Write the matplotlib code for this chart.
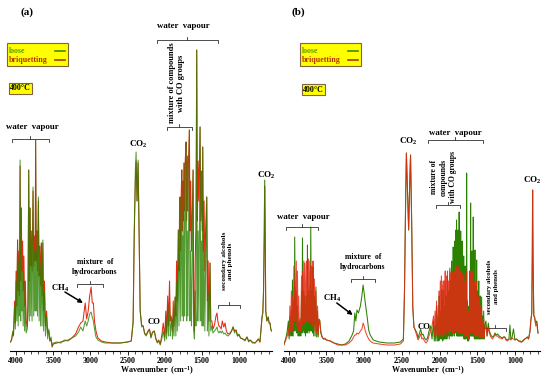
import matplotlib.pyplot as plt
from matplotlib.ticker import MultipleLocator
from matplotlib.lines import Line2D
from matplotlib.patches import Rectangle

plt.rcParams['font.family'] = 'Liberation Serif'
plt.rcParams['font.weight'] = 'bold'
plt.rcParams['mathtext.fontset'] = 'custom'
plt.rcParams['mathtext.rm'] = 'Liberation Serif:bold'
plt.rcParams['mathtext.bf'] = 'Liberation Serif:bold'
plt.rcParams['mathtext.it'] = 'Liberation Serif:bold'

# panel (a): wavenumber (cm-1) and absorbance (a.u. x 1e-3)
a_wn = [4075, 4060, 4045, 4035, 4020, 4010, 4000, 3990, 3980, 3972,
        3962, 3955, 3946, 3938, 3930, 3922, 3912, 3905, 3895, 3885,
        3875, 3865, 3850, 3840, 3830, 3822, 3812, 3803, 3795, 3785,
        3772, 3763, 3752, 3743, 3737, 3728, 3720, 3712, 3700, 3690,
        3680, 3670, 3660, 3650, 3640, 3630, 3618, 3605, 3590, 3575,
        3560, 3545, 3530, 3515, 3500, 3450, 3400, 3350, 3300, 3250,
        3200, 3160, 3130, 3100, 3070, 3050, 3030, 3010, 2990, 2975,
        2960, 2945, 2925, 2900, 2850, 2800, 2700, 2600, 2500, 2450,
        2425, 2410, 2395, 2385, 2372, 2358, 2345, 2330, 2310, 2290,
        2270, 2250, 2225, 2205, 2185, 2165, 2140, 2120, 2100, 2080,
        2060, 2040, 2020, 2000, 1985, 1975, 1960, 1950, 1935, 1925,
        1915, 1905, 1895, 1885, 1875, 1860, 1850, 1840, 1830, 1816,
        1808, 1800, 1793, 1785, 1777, 1770, 1762, 1755, 1748, 1740,
        1732, 1724, 1712, 1704, 1695, 1688, 1680, 1668, 1660, 1650,
        1640, 1630, 1618, 1610, 1600, 1590, 1580, 1569, 1560, 1550,
        1540, 1524, 1515, 1505, 1496, 1488, 1480, 1470, 1460, 1450,
        1434, 1425, 1415, 1405, 1390, 1380, 1365, 1350, 1330, 1310,
        1296, 1285, 1270, 1255, 1240, 1225, 1205, 1188, 1170, 1150,
        1120, 1100, 1080, 1060, 1040, 1020, 1000, 980, 950, 920,
        893, 870, 850, 820, 785, 760, 740, 718, 700, 690,
        680, 670, 660, 655, 650, 640, 625, 607, 595, 583,
        570, 560]
a_loose = [9, 12, 20, 15, 45, 22, 70, 30, 111, 25,
           90, 35, 191, 30, 143, 40, 80, 25, 70, 20,
           50, 18, 22, 40, 181, 30, 143, 35, 110, 30,
           164, 35, 100, 40, 211, 40, 100, 35, 154, 30,
           85, 25, 108, 25, 111, 20, 60, 15, 35, 12,
           22, 10, 14, 5, 8, 9, 8, 11, 10, 13,
           15, 19, 24, 20, 30, 25, 30, 37, 39, 34,
           30, 22, 14, 11, 9, 8, 8, 8, 9, 10,
           30, 120, 180, 199, 150, 191, 120, 40, 24, 25,
           17, 15, 19, 21, 13, 18, 20, 12, 8, 10,
           6, 12, 20, 10, 30, 12, 45, 15, 50, 15,
           25, 31, 12, 35, 15, 54, 15, 70, 20, 121,
           25, 100, 154, 30, 110, 181, 35, 115, 30, 188,
           35, 120, 209, 30, 120, 35, 110, 221, 30, 100,
           25, 75, 181, 20, 12, 60, 25, 301, 30, 120,
           30, 224, 30, 110, 25, 204, 25, 100, 20, 80,
           154, 20, 60, 15, 88, 20, 25, 18, 20, 22,
           24, 20, 18, 20, 18, 20, 17, 18, 16, 15,
           17, 20, 24, 18, 21, 15, 17, 13, 12, 10,
           14, 9, 11, 8, 8, 10, 12, 9, 25, 34,
           38, 60, 120, 171, 140, 40, 30, 34, 28, 28,
           21, 20]
a_briq = [9, 11, 18, 16, 50, 28, 80, 45, 111, 60,
          100, 55, 185, 70, 143, 80, 110, 60, 95, 45,
          70, 30, 24, 50, 181, 70, 143, 85, 120, 80,
          160, 85, 115, 90, 211, 90, 120, 80, 150, 75,
          105, 65, 108, 55, 108, 40, 70, 25, 40, 18,
          20, 10, 12, 4, 7, 8, 9, 10, 11, 13,
          17, 24, 28, 30, 48, 32, 40, 55, 64, 48,
          48, 30, 20, 13, 10, 9, 8, 8, 9, 10,
          28, 115, 170, 190, 150, 188, 120, 40, 26, 25,
          18, 16, 20, 22, 14, 19, 20, 13, 9, 11,
          7, 15, 28, 14, 40, 18, 55, 25, 70, 30,
          35, 31, 20, 50, 25, 54, 35, 90, 50, 121,
          80, 140, 154, 100, 160, 181, 120, 170, 130, 188,
          140, 190, 209, 130, 195, 140, 190, 221, 120, 170,
          100, 135, 181, 40, 20, 90, 120, 301, 130, 190,
          150, 224, 130, 180, 120, 204, 100, 150, 80, 120,
          154, 50, 90, 30, 88, 30, 30, 22, 26, 35,
          38, 30, 25, 24, 22, 30, 24, 28, 20, 17,
          18, 20, 24, 20, 21, 15, 16, 13, 12, 11,
          14, 10, 11, 9, 8, 10, 12, 9, 25, 34,
          38, 58, 118, 165, 140, 40, 30, 34, 28, 28,
          21, 20]

# panel (b)
b_wn = [4065, 4050, 4035, 4020, 4005, 3995, 3985, 3975, 3965, 3958,
        3951, 3942, 3932, 3926, 3921, 3912, 3900, 3894, 3885, 3875,
        3868, 3858, 3850, 3840, 3830, 3824, 3818, 3810, 3800, 3794,
        3786, 3778, 3765, 3758, 3752, 3746, 3738, 3730, 3720, 3714,
        3708, 3700, 3690, 3684, 3678, 3670, 3660, 3650, 3640, 3630,
        3618, 3610, 3600, 3589, 3575, 3560, 3540, 3520, 3500, 3450,
        3400, 3350, 3300, 3250, 3200, 3160, 3140, 3124, 3110, 3095,
        3075, 3050, 3030, 3014, 3000, 2985, 2960, 2940, 2920, 2903,
        2880, 2800, 2700, 2600, 2520, 2480, 2465, 2450, 2440, 2425,
        2410, 2395, 2385, 2370, 2355, 2340, 2320, 2300, 2285, 2265,
        2250, 2235, 2220, 2200, 2180, 2160, 2140, 2120, 2100, 2080,
        2070, 2060, 2050, 2040, 2030, 2017, 2010, 2005, 1998, 1990,
        1982, 1975, 1970, 1965, 1958, 1952, 1946, 1940, 1932, 1925,
        1918, 1910, 1903, 1895, 1888, 1880, 1872, 1863, 1856, 1850,
        1845, 1840, 1835, 1830, 1825, 1819, 1813, 1808, 1802, 1796,
        1790, 1783, 1779, 1775, 1770, 1765, 1760, 1755, 1751, 1748,
        1744, 1740, 1735, 1730, 1725, 1720, 1715, 1710, 1705, 1700,
        1695, 1690, 1685, 1680, 1675, 1670, 1665, 1660, 1655, 1650,
        1645, 1641, 1636, 1632, 1626, 1620, 1615, 1610, 1605, 1600,
        1594, 1588, 1584, 1580, 1575, 1570, 1565, 1560, 1557, 1553,
        1549, 1545, 1538, 1531, 1526, 1520, 1514, 1508, 1502, 1495,
        1488, 1480, 1475, 1470, 1465, 1460, 1452, 1442, 1436, 1430,
        1422, 1415, 1408, 1400, 1385, 1370, 1354, 1340, 1320, 1300,
        1280, 1265, 1250, 1230, 1210, 1190, 1170, 1150, 1135, 1120,
        1100, 1080, 1067, 1055, 1040, 1020, 1000, 980, 950, 930,
        912, 890, 870, 850, 835, 820, 800, 790, 777, 770,
        766, 760, 750, 740, 725, 710, 700, 694]
b_loose = [6, 10, 14, 20, 30, 12, 35, 15, 40, 15,
           71, 15, 50, 20, 114, 20, 60, 18, 45, 15,
           30, 15, 30, 15, 60, 18, 113, 20, 60, 18,
           55, 15, 55, 18, 106, 20, 60, 18, 65, 20,
           124, 20, 60, 18, 84, 15, 55, 15, 64, 14,
           40, 14, 30, 31, 18, 14, 12, 12, 11, 10,
           8, 7, 6, 7, 10, 16, 20, 38, 30, 41,
           38, 45, 55, 66, 58, 48, 34, 21, 16, 14,
           11, 9, 8, 8, 9, 12, 60, 150, 198, 160,
           121, 170, 196, 130, 44, 24, 21, 18, 13, 18,
           22, 16, 17, 13, 11, 13, 20, 25, 12, 30,
           10, 25, 10, 45, 10, 34, 10, 55, 12, 40,
           12, 61, 12, 50, 10, 61, 12, 45, 12, 70,
           12, 55, 12, 75, 15, 60, 12, 83, 15, 70,
           15, 90, 15, 80, 15, 104, 18, 90, 15, 110,
           18, 121, 18, 131, 15, 100, 15, 121, 15, 110,
           15, 139, 15, 100, 15, 120, 15, 90, 15, 110,
           15, 80, 15, 95, 12, 70, 12, 85, 12, 60,
           15, 178, 12, 50, 10, 40, 10, 45, 12, 80,
           15, 148, 15, 70, 15, 100, 15, 90, 15, 134,
           15, 80, 12, 101, 12, 65, 12, 91, 12, 60,
           12, 70, 12, 45, 12, 55, 12, 54, 12, 35,
           12, 40, 12, 25, 30, 15, 28, 20, 16, 14,
           15, 18, 16, 17, 15, 14, 13, 14, 14, 12,
           11, 12, 26, 12, 13, 22, 11, 12, 10, 10,
           9, 11, 12, 13, 14, 12, 20, 30, 38, 100,
           161, 90, 35, 34, 28, 30, 22, 18]
b_briq = [6, 9, 12, 15, 22, 15, 45, 20, 60, 20,
          55, 25, 85, 30, 70, 30, 90, 25, 80, 20,
          55, 20, 32, 20, 75, 25, 80, 30, 90, 28,
          88, 25, 90, 30, 80, 30, 92, 28, 90, 28,
          85, 30, 85, 25, 90, 22, 72, 20, 60, 18,
          45, 16, 32, 30, 20, 15, 12, 13, 11, 10,
          8, 6, 6, 6, 8, 11, 14, 16, 16, 18,
          17, 20, 22, 28, 25, 20, 15, 12, 10, 9,
          8, 7, 6, 6, 7, 10, 60, 150, 198, 160,
          121, 170, 196, 130, 44, 24, 20, 15, 11, 14,
          17, 12, 13, 10, 8, 10, 15, 20, 25, 35,
          15, 40, 15, 50, 15, 45, 15, 60, 18, 70,
          15, 75, 15, 65, 15, 70, 15, 70, 18, 80,
          15, 75, 18, 80, 20, 70, 15, 80, 20, 78,
          20, 80, 18, 75, 20, 80, 20, 75, 18, 80,
          20, 85, 22, 85, 20, 80, 20, 82, 18, 80,
          18, 85, 18, 75, 18, 80, 18, 70, 18, 78,
          18, 65, 18, 75, 15, 60, 15, 70, 15, 50,
          18, 80, 15, 45, 12, 35, 12, 40, 15, 70,
          18, 80, 18, 65, 18, 80, 18, 75, 18, 80,
          18, 65, 15, 70, 15, 55, 15, 70, 15, 50,
          15, 55, 15, 40, 14, 45, 14, 40, 14, 30,
          13, 32, 13, 22, 25, 15, 24, 18, 14, 12,
          14, 17, 15, 15, 13, 13, 12, 14, 14, 11,
          10, 12, 12, 11, 13, 12, 11, 12, 10, 9,
          9, 10, 12, 13, 14, 12, 20, 30, 38, 100,
          161, 90, 35, 34, 25, 28, 20, 18]

green = '#2b8200'
red = '#e62a14'
fs = 6.3
W, H = 550, 379


def bracket(ax, x0, x1, y, d=3):
    xc = (x0 + x1) / 2
    ax.plot([x0, x0, x1, x1], [y - d, y, y, y - d], color='#303030', lw=0.6, clip_on=False)
    ax.plot([xc, xc], [y, y + d], color='#303030', lw=0.6, clip_on=False)


def co2(ax, x, y):
    ax.text(x, y, r'CO$_{\mathbf{2}}$', ha='center', va='center', fontsize=6.5, clip_on=False)


def setup(ax, xlim):
    ax.set_xlim(xlim)
    ax.set_ylim(0, 321)
    for s in ['top', 'left', 'right']:
        ax.spines[s].set_visible(False)
    ax.spines['bottom'].set_linewidth(0.8)
    ax.set_yticks([])
    ax.xaxis.set_major_locator(MultipleLocator(500))
    ax.xaxis.set_minor_locator(MultipleLocator(100))
    ax.tick_params(axis='x', which='major', direction='out', length=3, width=0.6,
                   labelsize=5.8, pad=1.5)
    ax.tick_params(axis='x', which='minor', direction='out', length=1.8, width=0.5)
    ax.patch.set_alpha(0)


def legend_box(x0, y0):
    # px coordinates of the upper left corner
    fig.add_artist(Rectangle((x0 / W, 1 - (y0 + 23) / H), 61 / W, 23 / H,
                             transform=fig.transFigure, fc='#ffff00', ec='#80653a', lw=0.8))
    fig.text((x0 + 2) / W, 1 - (y0 + 8) / H, 'loose', color='#5c9c00', fontsize=5.7,
             ha='left', va='center')
    fig.text((x0 + 2) / W, 1 - (y0 + 17) / H, 'briquetting', color='#b83000', fontsize=5.7,
             ha='left', va='center')
    for dy, c in [(8, '#3f9000'), (17, '#a83a10')]:
        fig.add_artist(Line2D([(x0 + 48) / W, (x0 + 58) / W], [1 - (y0 + dy) / H] * 2,
                              transform=fig.transFigure, color=c, lw=1.2))


fig = plt.figure(figsize=(5.5, 3.79), dpi=100)
ax1 = fig.add_axes([10 / W, 28 / H, 262 / W, 321 / H])
ax2 = fig.add_axes([284 / W, 28 / H, 256 / W, 321 / H])

# (a) green on top
ax1.plot(a_wn, a_briq, color=red, lw=0.75, zorder=2)
ax1.plot(a_wn, a_loose, color=green, lw=0.75, alpha=0.8, zorder=3)
setup(ax1, (4082, 556))

# (b) red on top
ax2.plot(b_wn, b_loose, color=green, lw=0.75, zorder=2)
ax2.plot(b_wn, b_briq, color=red, lw=0.75, alpha=0.85, zorder=3)
setup(ax2, (4063, 668))

legend_box(7, 43)
legend_box(300, 43)
box = dict(boxstyle='square,pad=0.15', fc='#ffff00', ec='#80653a', lw=0.8)
fig.text(20.5 / W, 1 - 88.5 / H, '400°C', ha='center', va='center', fontsize=5.8, bbox=box)
fig.text(313.5 / W, 1 - 89.5 / H, '400°C', ha='center', va='center', fontsize=5.8, bbox=box)

fig.text(27 / W, 1 - 12 / H, '(a)', ha='center', va='center', fontsize=8)
fig.text(298 / W, 1 - 12 / H, '(b)', ha='center', va='center', fontsize=8)
fig.text(157 / W, 1 - 371 / H, r'Wavenumber  (cm$^{\mathbf{-1}}$)', ha='center', va='center', fontsize=5.8)
fig.text(428 / W, 1 - 371 / H, r'Wavenumber  (cm$^{\mathbf{-1}}$)', ha='center', va='center', fontsize=5.8)

# annotations (a)
ax1.text(3780, 224, 'water  vapour', ha='center', va='center', fontsize=fs)
bracket(ax1, 4055, 3558, 212)
ax1.text(1743, 325, 'water  vapour', ha='center', va='center', fontsize=fs, clip_on=False)
bracket(ax1, 2106, 1287, 311)
ax1.text(1838, 268, 'mixture of compounds\nwith CO groups', rotation=90, ha='center',
         va='center', fontsize=6.0, linespacing=1.25)
bracket(ax1, 1972, 1636, 224)
co2(ax1, 2362, 207)
co2(ax1, 628, 176)
ax1.text(2940, 84, 'mixture  of\nhydrocarbons', ha='center', va='center', fontsize=5.6, linespacing=1.3)
bracket(ax1, 3182, 2832, 67)
ax1.text(3410, 63, r'CH$_{\mathbf{4}}$', ha='center', va='center', fontsize=6.3)
ax1.annotate('', xy=(3100, 48), xytext=(3343, 59),
             arrowprops=dict(arrowstyle='-|>', lw=1.1, color='black', mutation_scale=6,
                             shrinkA=0, shrinkB=0))
ax1.text(2146, 29, 'CO', ha='center', va='center', fontsize=6.3)
ax1.text(1152, 90, 'secondary alcohols\nand phenols', rotation=90, ha='center',
         va='center', fontsize=5.2, linespacing=1.3)
bracket(ax1, 1287, 991, 46)

# annotations (b)
ax2.text(3801, 134, 'water  vapour', ha='center', va='center', fontsize=fs)
bracket(ax2, 4040, 3616, 124)
ax2.text(3018, 89, 'mixture  of\nhydrocarbons', ha='center', va='center', fontsize=5.6, linespacing=1.3)
bracket(ax2, 3177, 2859, 72)
ax2.text(3430, 53, r'CH$_{\mathbf{4}}$', ha='center', va='center', fontsize=6.3)
ax2.annotate('', xy=(3151, 36), xytext=(3363, 48),
             arrowprops=dict(arrowstyle='-|>', lw=1.1, color='black', mutation_scale=6,
                             shrinkA=0, shrinkB=0))
co2(ax2, 2420, 210)
ax2.text(1796, 218, 'water  vapour', ha='center', va='center', fontsize=fs)
bracket(ax2, 2155, 1425, 211)
ax2.text(1950, 174, 'mixture of\ncompounds\nwith CO groups', rotation=90, ha='center',
         va='center', fontsize=5.5, linespacing=1.2)
bracket(ax2, 2049, 1730, 146)
ax2.text(2208, 24, 'CO', ha='center', va='center', fontsize=6.3)
ax2.text(1291, 64, 'secondary alcohols\nand phenols', rotation=90, ha='center',
         va='center', fontsize=4.9, linespacing=1.3)
bracket(ax2, 1424, 1118, 23)
co2(ax2, 773, 171)

fig.savefig('out.png', dpi=100)
